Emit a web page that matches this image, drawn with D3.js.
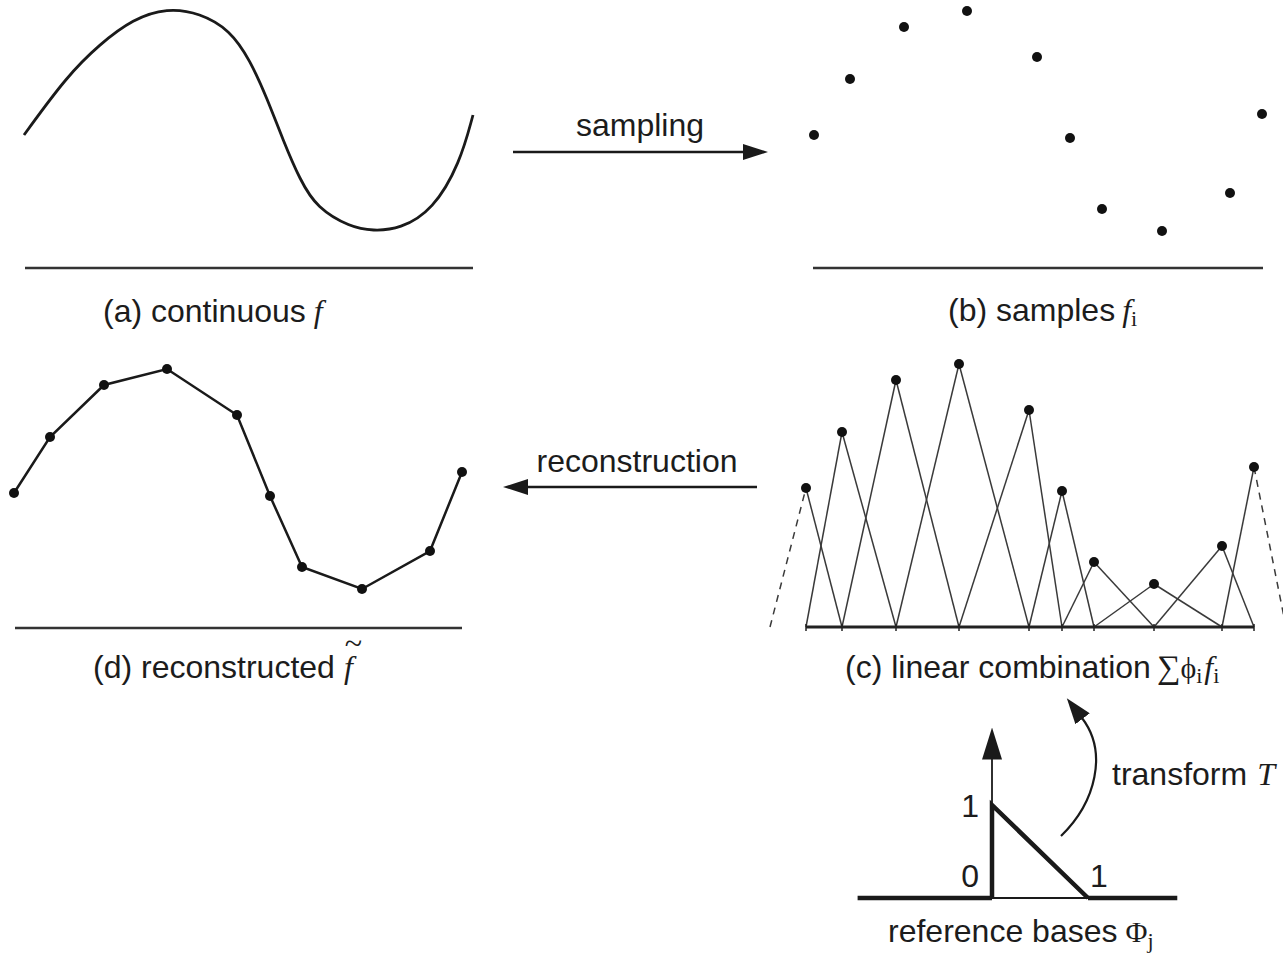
<!DOCTYPE html>
<html>
<head>
<meta charset="utf-8">
<script src="https://cdn.jsdelivr.net/npm/d3@7"></script>
<style>
body{margin:0;background:#fff}
svg{display:block}
text{font-family:"Liberation Sans",Arial,sans-serif;font-size:32px;fill:#1c1c1c}
.serif{font-family:"Liberation Serif","DejaVu Serif",serif}
</style>
</head>
<body>
<svg width="1283" height="957"></svg>
<script>
// sample positions (along the axis) and sampled values f_i
const sampleX = [0, 36, 90, 153, 223, 256, 288, 348, 416, 448];
const sampleF = [133, 189, 241, 257, 211, 130, 59, 37, 75, 154];
const curveX = [0, 43, 76, 109, 143, 176, 206, 226, 243, 259, 276, 293, 326, 349, 376, 409, 436, 449];
const curveF = [133, 192, 224, 249, 260, 255, 238, 208, 170, 128, 88, 60, 41, 37, 39, 58, 105, 153];
// reference hat basis
const basisX = [0, 0, 1];
const basisY = [0, 1, 0];
const basisTicks = ["0", "1", "1"];

const ink = "#1a1a1a";
const svg = d3.select("svg");

const defs = svg.append("defs");
function marker(id, len, half) {
  defs.append("marker")
    .attr("id", id)
    .attr("markerUnits", "userSpaceOnUse")
    .attr("viewBox", `0 0 ${len} ${half*2}`)
    .attr("markerWidth", len).attr("markerHeight", half*2)
    .attr("refX", 1).attr("refY", half)
    .attr("orient", "auto")
    .append("path")
    .attr("d", `M0,0L${len},${half}L0,${half*2}Z`)
    .attr("fill", ink);
}
marker("head", 25, 8);
marker("headBig", 32, 10);
marker("headCurve", 26, 9);

// ---- (a) continuous f
const xa = d3.scaleLinear().domain([0, 448]).range([24, 472]);
const ya = d3.scaleLinear().domain([0, 257]).range([268, 11]);
svg.append("path")
  .datum(d3.range(curveX.length))
  .attr("d", d3.line().x(i => xa(curveX[i])).y(i => ya(curveF[i])).curve(d3.curveBasis))
  .attr("fill", "none").attr("stroke", ink).attr("stroke-width", 2.8);
svg.append("line").attr("x1", xa(1)).attr("x2", xa(449)).attr("y1", ya(0)).attr("y2", ya(0))
  .attr("stroke", "#333").attr("stroke-width", 2.6);
svg.append("text").attr("x", 103).attr("y", 322).text("(a) continuous")
  .append("tspan").attr("class", "serif").attr("font-style", "italic").attr("dx", 8).text("f");

// ---- (b) samples
const xb = d3.scaleLinear().domain([0, 448]).range([814, 1262]);
const yb = d3.scaleLinear().domain([0, 257]).range([268, 11]);
svg.append("g").selectAll("circle").data(sampleX).join("circle")
  .attr("cx", d => xb(d)).attr("cy", (d, i) => yb(sampleF[i])).attr("r", 5).attr("fill", "#111");
svg.append("line").attr("x1", xb(-1)).attr("x2", xb(449)).attr("y1", yb(0)).attr("y2", yb(0))
  .attr("stroke", "#333").attr("stroke-width", 2.6);
const tb = svg.append("text").attr("x", 948).attr("y", 321).text("(b) samples");
tb.append("tspan").attr("class", "serif").attr("font-style", "italic").attr("dx", 7).text("f");
tb.append("tspan").attr("class", "serif").attr("font-size", 22).attr("dy", 5).text("i");

// ---- sampling arrow
svg.append("line").attr("x1", 513).attr("x2", 744).attr("y1", 152).attr("y2", 152)
  .attr("stroke", ink).attr("stroke-width", 2.5).attr("marker-end", "url(#head)");
svg.append("text").attr("x", 640).attr("y", 136).attr("text-anchor", "middle").text("sampling");

// ---- (c) linear combination
const xc = d3.scaleLinear().domain([0, 448]).range([806, 1254]);
const yc = d3.scaleLinear().domain([-6, 257]).range([627, 364]);
const n = sampleX.length;
const gc = svg.append("g");
const hat = [];
sampleX.forEach((sx, i) => {
  const left = i > 0 ? sampleX[i - 1] : sx - (sampleX[1] - sampleX[0]);
  const right = i < n - 1 ? sampleX[i + 1] : sx + (sampleX[n - 1] - sampleX[n - 2]);
  hat.push({ x1: left, x2: sx, f: sampleF[i], dashed: i === 0, up: true });
  hat.push({ x1: sx, x2: right, f: sampleF[i], dashed: i === n - 1, up: false });
});
gc.selectAll("line.hat").data(hat).join("line")
  .attr("class", "hat")
  .attr("x1", d => xc(d.up ? d.x1 : d.x2)).attr("y1", yc(-6))
  .attr("x2", d => xc(d.up ? d.x2 : d.x1)).attr("y2", d => yc(d.f))
  .attr("stroke", "#3a3a3a").attr("stroke-width", 1.5)
  .attr("stroke-dasharray", d => d.dashed ? "7,6" : null);
gc.append("line").attr("x1", xc(0)).attr("x2", xc(448)).attr("y1", yc(-6)).attr("y2", yc(-6))
  .attr("stroke", "#222").attr("stroke-width", 3);
gc.selectAll("line.tick").data(sampleX).join("line")
  .attr("class", "tick")
  .attr("x1", d => xc(d)).attr("x2", d => xc(d)).attr("y1", yc(-6) - 3).attr("y2", yc(-6) + 4)
  .attr("stroke", "#222").attr("stroke-width", 1.5);
gc.selectAll("circle").data(sampleX).join("circle")
  .attr("cx", d => xc(d)).attr("cy", (d, i) => yc(sampleF[i])).attr("r", 5).attr("fill", "#111");
const tc = svg.append("text").attr("x", 845).attr("y", 678).text("(c) linear combination");
tc.append("tspan").attr("class", "serif").attr("font-size", 33).attr("dx", 6).text("∑");
tc.append("tspan").attr("class", "serif").attr("font-size", 30).text("ϕ");
tc.append("tspan").attr("class", "serif").attr("font-size", 22).attr("dy", 5).text("i");
tc.append("tspan").attr("class", "serif").attr("font-style", "italic").attr("dy", -5).attr("dx", 2).text("f");
tc.append("tspan").attr("class", "serif").attr("font-size", 22).attr("dy", 5).text("i");

// ---- reconstruction arrow
svg.append("line").attr("x1", 757).attr("x2", 527).attr("y1", 487).attr("y2", 487)
  .attr("stroke", ink).attr("stroke-width", 2.5).attr("marker-end", "url(#head)");
svg.append("text").attr("x", 637).attr("y", 472).attr("text-anchor", "middle").text("reconstruction");

// ---- (d) reconstructed
const xd = d3.scaleLinear().domain([0, 448]).range([14, 462]);
const yd = d3.scaleLinear().domain([-2, 257]).range([628, 369]);
svg.append("path")
  .datum(d3.range(n))
  .attr("d", d3.line().x(i => xd(sampleX[i])).y(i => yd(sampleF[i])))
  .attr("fill", "none").attr("stroke", ink).attr("stroke-width", 2.5);
svg.append("g").selectAll("circle").data(sampleX).join("circle")
  .attr("cx", d => xd(d)).attr("cy", (d, i) => yd(sampleF[i])).attr("r", 5).attr("fill", "#111");
svg.append("line").attr("x1", xd(1)).attr("x2", xd(448)).attr("y1", yd(-2)).attr("y2", yd(-2))
  .attr("stroke", "#333").attr("stroke-width", 2.6);
const td = svg.append("text").attr("x", 93).attr("y", 678).text("(d) reconstructed");
td.append("tspan").attr("class", "serif").attr("font-style", "italic").attr("dx", 9).text("f");
const tdNode = td.node();
const last = tdNode.getNumberOfChars() - 1;
const fs = tdNode.getStartPositionOfChar(last), fe = tdNode.getEndPositionOfChar(last);
svg.append("text").attr("class", "serif").attr("font-size", 24)
  .attr("x", (fs.x + fe.x) / 2 + 5).attr("y", 654).attr("text-anchor", "middle").text("~");

// ---- reference bases
const xr = d3.scaleLinear().domain([0, 1]).range([992, 1088]);
const yr = d3.scaleLinear().domain([0, 1]).range([898, 805]);
svg.append("line").attr("x1", xr(0)).attr("x2", xr(1)).attr("y1", yr(0)).attr("y2", yr(0))
  .attr("stroke", ink).attr("stroke-width", 1.8);
svg.append("line").attr("x1", xr(0)).attr("x2", xr(0)).attr("y1", yr(0)).attr("y2", yr(1.5))
  .attr("stroke", ink).attr("stroke-width", 1.8).attr("marker-end", "url(#headBig)");
svg.append("line").attr("x1", xr(-1.4)).attr("x2", xr(0)).attr("y1", yr(0)).attr("y2", yr(0))
  .attr("stroke", ink).attr("stroke-width", 4.5);
svg.append("line").attr("x1", xr(1)).attr("x2", xr(1.93)).attr("y1", yr(0)).attr("y2", yr(0))
  .attr("stroke", ink).attr("stroke-width", 4.5);
svg.append("path")
  .datum(d3.range(basisX.length))
  .attr("d", d3.line().x(i => xr(basisX[i])).y(i => yr(basisY[i])))
  .attr("fill", "none").attr("stroke", ink).attr("stroke-width", 4.5).attr("stroke-linejoin", "miter");
svg.append("g").selectAll("text").data(basisTicks).join("text")
  .attr("font-size", 27)
  .attr("x", (d, i) => i < 2 ? xr(0) - 13 : xr(1) + 11)
  .attr("y", (d, i) => i === 1 ? 817 : 887)
  .attr("text-anchor", (d, i) => i < 2 ? "end" : "middle")
  .text(d => d);
const tr = svg.append("text").attr("x", 888).attr("y", 942).text("reference bases");
tr.append("tspan").attr("class", "serif").attr("dx", 8).attr("font-size", 30).text("Φ");
tr.append("tspan").attr("class", "serif").attr("font-size", 22).attr("dy", 6).text("j");

// ---- transform arrow
svg.append("path").attr("d", "M1061,836C1096,802 1108,752 1082,718")
  .attr("fill", "none").attr("stroke", ink).attr("stroke-width", 2.2).attr("marker-end", "url(#headCurve)");
const tt = svg.append("text").attr("x", 1112).attr("y", 785).text("transform");
tt.append("tspan").attr("class", "serif").attr("font-style", "italic").attr("dx", 10).text("T");
</script>
</body>
</html>
